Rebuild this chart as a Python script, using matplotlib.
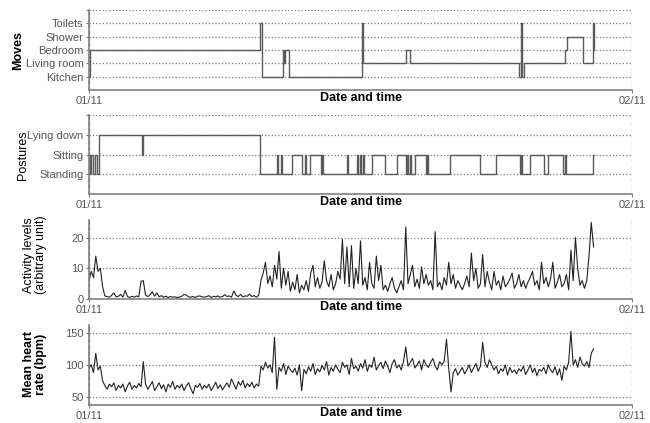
import numpy as np
import matplotlib
matplotlib.use('Agg')
import matplotlib.pyplot as plt

plt.rcParams['font.family'] = ['Liberation Sans', 'DejaVu Sans']

# x axis: hours after 01/11 00:00
DAY_LABELS = ['01/11', '02/11']

# Moves: (hour, room level) step points
ROOMS = ['Kitchen', 'Living room', 'Bedroom', 'Shower', 'Toilets']
move_hours = [0.0, 0.03, 7.58, 7.63, 8.57, 8.64, 8.68, 8.84, 12.07, 12.13,
              14.0, 14.17, 19.0, 19.08, 19.16, 19.22, 21.06, 21.11, 21.83, 22.28, 22.32]
move_level = [1, 3, 5, 1, 3, 2, 3, 1, 5, 2,
              3, 2, 1, 5, 1, 2, 3, 4, 2, 5, 3]

# Postures: (hour, posture level) step points
POSTURES = ['Standing', 'Sitting', 'Lying down']
post_hours = [0.0, 0.05, 0.10, 0.18, 0.25, 0.35, 0.43, 2.33, 2.40, 7.58,
              8.32, 8.36, 8.50, 8.55, 8.97, 9.41, 9.56, 9.60, 9.78, 10.25,
              10.30, 10.34, 11.40, 11.44, 11.83, 11.87, 11.97, 12.02, 12.12, 12.16,
              12.50, 13.10, 13.60, 14.00, 14.05, 14.09, 14.20, 14.24, 14.40, 14.90,
              14.95, 15.00, 15.97, 17.30, 18.00, 19.05, 19.08, 19.12, 19.50, 20.10,
              20.30, 20.95, 21.03, 21.07, 22.28, 22.32]
post_level = [2, 1, 2, 1, 2, 1, 3, 2, 3, 1,
              2, 1, 2, 1, 2, 1, 2, 1, 2, 1,
              2, 1, 2, 1, 2, 1, 2, 1, 2, 1,
              2, 1, 2, 1, 2, 1, 2, 1, 2, 1,
              2, 1, 2, 1, 2, 1, 2, 1, 2, 1,
              2, 1, 2, 1, 2, 2]

# Activity levels and mean heart rate, one sample every 0.1 h
STEP_H = 0.1
activity = [
    6, 9, 7, 14, 9, 10, 4, 1.0, 0.8, 0.6,
    1.2, 2.0, 0.7, 0.9, 1.5, 0.6, 2.8, 0.8, 0.5, 0.9,
    0.6, 1.0, 0.7, 5.8, 6.0, 1.2, 0.8, 1.4, 2.4, 0.9,
    2.0, 0.7, 1.1, 0.6, 0.9, 0.5, 0.8, 0.6, 0.7, 0.5,
    0.6, 0.9, 1.5, 1.3, 0.7, 0.6, 0.8, 0.5, 0.9, 1.0,
    0.7, 0.6, 0.8, 1.1, 0.5, 0.9, 0.7, 1.0, 0.6, 0.8,
    1.4, 0.8, 1.0, 0.6, 2.6, 1.2, 0.8, 1.5, 0.7, 1.0,
    0.9, 1.6, 0.8, 1.1, 0.6, 1.2, 6.0, 8.5, 12.0, 5.0,
    7.5, 4.0, 11.0, 6.5, 15.5, 3.5, 10.0, 4.5, 9.0, 2.5,
    5.5, 3.0, 8.0, 2.0, 4.5, 3.0, 6.0, 2.5, 8.5, 11.0,
    4.0, 7.0, 3.5, 5.5, 12.5, 6.0, 4.0, 8.0, 3.0, 5.0,
    9.0, 6.5, 19.5, 5.0, 17.0, 4.0, 17.5, 3.5, 10.0, 5.0,
    19.0, 4.5, 7.0, 3.0, 12.0, 5.0, 3.5, 14.0, 6.0, 11.0,
    3.0, 4.5, 2.5, 5.0, 7.0, 3.5, 2.0, 4.0, 6.0, 3.0,
    23.5, 5.0, 8.0, 11.0, 4.0, 6.5, 3.5, 10.5, 5.0, 8.0,
    4.5, 6.0, 3.0, 22.0, 4.0, 5.5, 3.0, 7.0, 4.5, 12.0,
    5.0, 8.0, 3.5, 6.0, 4.5, 3.0, 5.0, 7.5, 4.0, 15.0,
    6.0, 10.0, 3.5, 5.0, 14.5, 4.0, 9.0, 5.5, 3.0, 9.0,
    4.5, 6.0, 3.0, 7.5, 4.0, 5.0, 6.5, 8.5, 3.5, 5.0,
    8.0, 4.0, 6.0, 3.5, 5.5, 7.0, 9.0, 4.5, 6.0, 3.0,
    12.0, 5.0, 7.0, 4.0, 6.5, 12.0, 3.5, 5.5, 8.0, 4.0,
    5.0, 8.0, 3.0, 16.0, 6.0, 20.0, 10.0, 4.5, 6.0, 3.5,
    6.0, 14.0, 25.0, 17.0,
]
heart_rate = [
    95, 100, 88, 118, 92, 98, 75, 68, 62, 70,
    66, 72, 60, 68, 64, 70, 58, 67, 73, 62,
    68, 64, 71, 66, 105, 70, 62, 68, 74, 60,
    66, 72, 63, 69, 58, 70, 65, 74, 62, 68,
    64, 70, 60, 67, 72, 63, 55, 68, 65, 71,
    62, 68, 64, 70, 60, 66, 73, 63, 69, 61,
    67, 72, 65, 78, 70, 62, 74, 68, 76, 64,
    71, 66, 73, 64, 70, 67, 98, 92, 104, 95,
    100, 88, 143, 62, 96, 90, 102, 85, 98, 92,
    88, 95, 84, 100, 60, 93, 86, 97, 90, 102,
    85, 94, 89, 99, 92, 105, 84, 96, 90, 100,
    93, 88, 104, 96, 100, 85, 110, 94, 98, 90,
    102, 95, 108, 90, 100, 96, 112, 92, 99, 104,
    94, 106, 98, 88, 102, 108, 95, 100, 92, 105,
    128, 98, 104, 110, 95, 100, 106, 92, 108, 100,
    96, 104, 110, 98, 92, 105, 100, 106, 140, 95,
    58, 88, 94, 84, 90, 96, 86, 92, 100, 88,
    95, 102, 90, 98, 135, 104, 96, 108, 100, 92,
    98, 86, 94, 90, 100, 84, 96, 88, 92, 86,
    94, 90, 98, 85, 92, 100, 88, 95, 83, 93,
    90, 96, 86, 100, 92, 88, 97, 84, 94, 76,
    98, 92, 104, 152, 100, 108, 96, 112, 102, 98,
    105, 96, 118, 125,
]

GRID = '#7a7a7a'
TXT = '#555555'


def style(ax, yticks, ylabels, ylim):
    ax.set_xlim(0, 24)
    ax.set_ylim(*ylim)
    ax.set_xticks([0, 24])
    ax.set_xticklabels(DAY_LABELS)
    ax.set_yticks(yticks)
    ax.set_yticklabels(ylabels)
    ax.yaxis.grid(True, ls=':', color=GRID, lw=0.9)
    ax.xaxis.grid(True, ls=(0, (3, 2)), color=GRID, lw=0.9)
    for s in ['top', 'right']:
        ax.spines[s].set_visible(False)
    for s in ['left', 'bottom']:
        ax.spines[s].set_color('#808080')
        ax.spines[s].set_linewidth(1.2)
    ax.tick_params(length=2, pad=2, colors='#808080', labelcolor=TXT, labelsize=8)
    ax.text(0.5, -0.1, 'Date and time', transform=ax.transAxes, ha='center',
            va='center', fontsize=9, fontweight='bold')


fig = plt.figure(figsize=(6.5, 4.23), dpi=100)
L, W = 89 / 650, 543 / 650


def make_axes(top_px, bot_px):
    return fig.add_axes([L, 1 - bot_px / 423, W, (bot_px - top_px) / 423])


ax1 = make_axes(10, 90)
ax1.step(move_hours, move_level, where='post', color='#5a5a5a', lw=1.0)
style(ax1, [1, 2, 3, 4, 5, 6], ROOMS + [''], (0, 6))
fig.text(18 / 650, 1 - 50 / 423, 'Moves', rotation=90, ha='center', va='center',
         fontsize=9, fontweight='bold')

ax2 = make_axes(115, 194)
ax2.step(post_hours, post_level, where='post', color='#5a5a5a', lw=1.0)
style(ax2, [1, 2, 3, 4], POSTURES + [''], (0, 4))
fig.text(23 / 650, 1 - 155 / 423, 'Postures', rotation=90, ha='center', va='center',
         fontsize=9)

t_act = np.arange(len(activity)) * STEP_H
ax3 = make_axes(220, 299)
ax3.plot(t_act, activity, color='#222222', lw=0.8)
style(ax3, [0, 10, 20], ['0', '10', '20'], (0, 25.8))
fig.text(35 / 650, 1 - 255 / 423, 'Activity levels\n(arbitrary unit)', rotation=90,
         ha='center', va='center', fontsize=9, linespacing=1.1)

t_hr = np.arange(len(heart_rate)) * STEP_H
ax4 = make_axes(325, 405)
ax4.plot(t_hr, heart_rate, color='#222222', lw=0.8)
style(ax4, [50, 100, 150], ['50', '100', '150'], (37.5, 162))
fig.text(35 / 650, 1 - 364 / 423, 'Mean heart\nrate (bpm)', rotation=90,
         ha='center', va='center', fontsize=9, fontweight='bold', linespacing=1.1)

fig.savefig('out.png', dpi=100)
